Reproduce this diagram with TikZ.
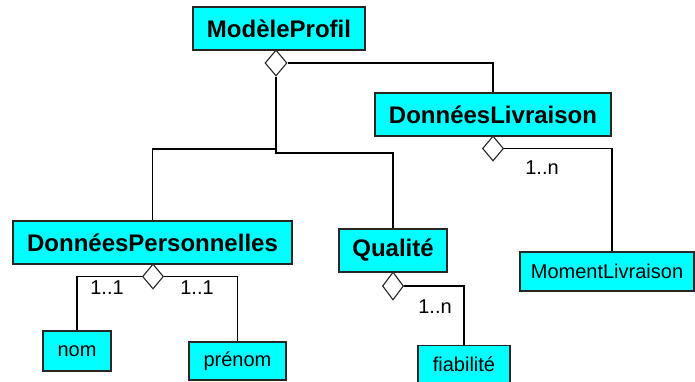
\documentclass[tikz,border=0pt]{standalone}
\usepackage{fontspec}
\setmainfont{Liberation Sans}
\usetikzlibrary{shapes.geometric}
\definecolor{cyanvif}{RGB}{0,255,255}
\begin{document}
\begin{tikzpicture}[x=1pt,y=-1pt,line width=1.1pt,
  classe/.style={draw=black!85,fill=cyanvif,font=\fontsize{24}{28}\selectfont\bfseries,minimum height=43,inner sep=0},
  attribut/.style={draw=black!85,fill=cyanvif,font=\fontsize{20}{24}\selectfont,minimum height=39,inner sep=0},
  losange/.style={diamond,draw=black!85,fill=white,inner sep=0,aspect=1},
  mult/.style={font=\fontsize{20}{24}\selectfont}]
\useasboundingbox (0,0) rectangle (695,381);

\node [classe,minimum width=172] (mp) at (279,28.5) {ModèleProfil};
\node [classe,minimum width=236] (dl) at (493,114.5) {DonnéesLivraison};
\node [classe,minimum width=279] (dp) at (152.5,242.5) {DonnéesPersonnelles};
\node [classe,minimum width=108] (q) at (393,250.5) {Qualité};
\node [attribut,minimum width=174] (ml) at (607,271.5) {MomentLivraison};
\node [attribut,minimum width=68,minimum height=40] (nom) at (77,351) {nom};
\node [attribut,minimum width=97,minimum height=38] (pr) at (237.5,361) {prénom};
\node [attribut,minimum width=92,minimum height=38] (fi) at (464,364.5) {fiabilité};

\node [losange,minimum width=22,minimum height=26] (d1) at (276,63) {};
\node [losange,minimum width=21,minimum height=25] (d2) at (493,148.5) {};
\node [losange,minimum width=21,minimum height=25] (d3) at (153,276.5) {};
\node [losange,minimum width=21,minimum height=28] (d4) at (393,286) {};

\coordinate (j1) at (276,149);
\coordinate (j2) at (276,153);

\draw (d1.east) -| (dl.north);
\draw (d1.south) -- (j2) -| (q.north);
\draw (j1) -| (dp.north);
\draw (d2.east) -| ([xshift=5]ml.north);
\draw (d3.west) -| (nom.north);
\draw (d3.east) -| (pr.north);
\draw (d4.east) -| (fi.north);

\node [mult] (m1) at (107,288) {1..1};
\node [mult] (m2) at (197,288) {1..1};
\node [mult] (m3) at (542,168) {1..n};
\node [mult] (m4) at (435,307) {1..n};
\end{tikzpicture}
\end{document}
